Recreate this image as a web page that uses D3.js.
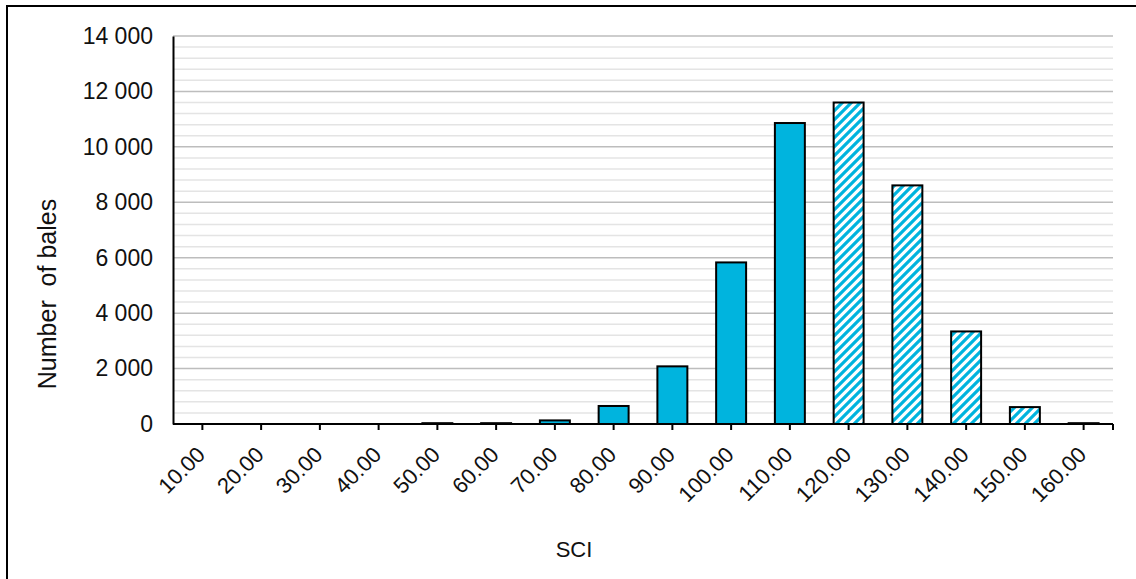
<!DOCTYPE html>
<html>
<head>
<meta charset="utf-8">
<script src="https://cdn.jsdelivr.net/npm/d3@7"></script>
<style>
  html, body { margin: 0; padding: 0; background: #fff; }
  svg { display: block; font-family: "Liberation Sans", Arial, sans-serif; }
</style>
</head>
<body>
<svg id="chart" width="1136" height="579"></svg>
<script>
// ---- data ----
const categories = [10, 20, 30, 40, 50, 60, 70, 80, 90, 100, 110, 120, 130, 140, 150, 160];
const bales      = [0, 0, 0, 0, 30, 30, 130, 650, 2080, 5830, 10860, 11600, 8610, 3340, 610, 30];
const hatchedCategories = [120, 130, 140, 150, 160];
const yTicks = [0, 2000, 4000, 6000, 8000, 10000, 12000, 14000];
const yMinorStep = 400;
const yTitle = "Number  of bales";
const xTitle = "SCI";

// ---- layout ----
const svg = d3.select("#chart");
const plot = { left: 173, right: 1113, top: 36, bottom: 424 };
const barColor = "#00B4DE";

const x = d3.scaleBand().domain(categories).range([plot.left, plot.right]).paddingInner(0.49).paddingOuter(0.245);
const y = d3.scaleLinear().domain([0, 14000]).range([plot.bottom, plot.top]);

const fmtLocale = d3.formatLocale({ decimal: ".", thousands: "\u00a0", grouping: [3], currency: ["", ""] });
const yFmt = fmtLocale.format(",");
const xFmt = d3.format(".2f");

// hatch pattern (wide upward diagonal)
const P = 9;
const defs = svg.append("defs");
const pat = defs.append("pattern").attr("id", "hatch").attr("patternUnits", "userSpaceOnUse")
  .attr("width", P).attr("height", P);
pat.append("rect").attr("width", P).attr("height", P).attr("fill", "#fff");
pat.append("path").attr("d", `M-2,2 L2,-2 M0,${P} L${P},0 M${P-2},${P+2} L${P+2},${P-2}`)
  .attr("stroke", barColor).attr("stroke-width", 3.2);

// outer border
svg.append("rect").attr("x", 7).attr("y", 6).attr("width", 1140).attr("height", 590)
  .attr("fill", "none").attr("stroke", "#000").attr("stroke-width", 2);

// minor gridlines
const minorVals = d3.range(0, 14000 + 1, yMinorStep).filter(v => v % 2000 !== 0);
svg.append("g").selectAll("line").data(minorVals).join("line")
  .attr("x1", plot.left).attr("x2", plot.right)
  .attr("y1", d => y(d)).attr("y2", d => y(d))
  .attr("stroke", "#E4E4E4").attr("stroke-width", 1.5);

// major gridlines
svg.append("g").selectAll("line").data(yTicks.filter(v => v > 0)).join("line")
  .attr("x1", plot.left).attr("x2", plot.right)
  .attr("y1", d => y(d)).attr("y2", d => y(d))
  .attr("stroke", "#BDBDBD").attr("stroke-width", 1.5);

// bars
svg.append("g").selectAll("rect").data(categories).join("rect")
  .attr("x", d => x(d))
  .attr("width", x.bandwidth())
  .attr("y", (d, i) => y(bales[i]))
  .attr("height", (d, i) => y(0) - y(bales[i]))
  .attr("fill", d => hatchedCategories.includes(d) ? "url(#hatch)" : barColor)
  .attr("stroke", "#000").attr("stroke-width", 2);

// y axis
const yAxis = svg.append("g").attr("transform", `translate(${plot.left},0)`)
  .call(d3.axisLeft(y).tickValues(yTicks).tickFormat(d => yFmt(d)).tickSize(0).tickPadding(20));
yAxis.select(".domain").attr("stroke", "#000").attr("stroke-width", 2);
yAxis.selectAll("text").attr("font-size", 23).attr("fill", "#111")
  .attr("font-family", "'Liberation Sans', Arial, sans-serif");

// x axis
const xAxis = svg.append("g").attr("transform", `translate(0,${plot.bottom})`)
  .call(d3.axisBottom(x).tickFormat(d => xFmt(d)).tickSize(6).tickSizeOuter(0));
xAxis.select(".domain").attr("stroke", "#000").attr("stroke-width", 2)
  .attr("d", `M${plot.left},0H${plot.right}`);
xAxis.selectAll(".tick line").attr("stroke", "#000").attr("stroke-width", 2);
xAxis.append("line").attr("x1", plot.right).attr("x2", plot.right).attr("y1", 0).attr("y2", 6)
  .attr("stroke", "#000").attr("stroke-width", 2);
xAxis.selectAll(".tick text")
  .attr("font-size", 22).attr("fill", "#111")
  .attr("font-family", "'Liberation Sans', Arial, sans-serif")
  .attr("text-anchor", "end")
  .attr("x", 0).attr("y", 0).attr("dy", 0)
  .attr("transform", "translate(4,32) rotate(-45)");

// titles
svg.append("text").attr("transform", "translate(56,294) rotate(-90)")
  .attr("text-anchor", "middle").attr("font-size", 25).attr("fill", "#111")
  .style("white-space", "pre").text(yTitle);
svg.append("text").attr("x", 574).attr("y", 557)
  .attr("text-anchor", "middle").attr("font-size", 22).attr("fill", "#111").text(xTitle);
</script>
</body>
</html>
